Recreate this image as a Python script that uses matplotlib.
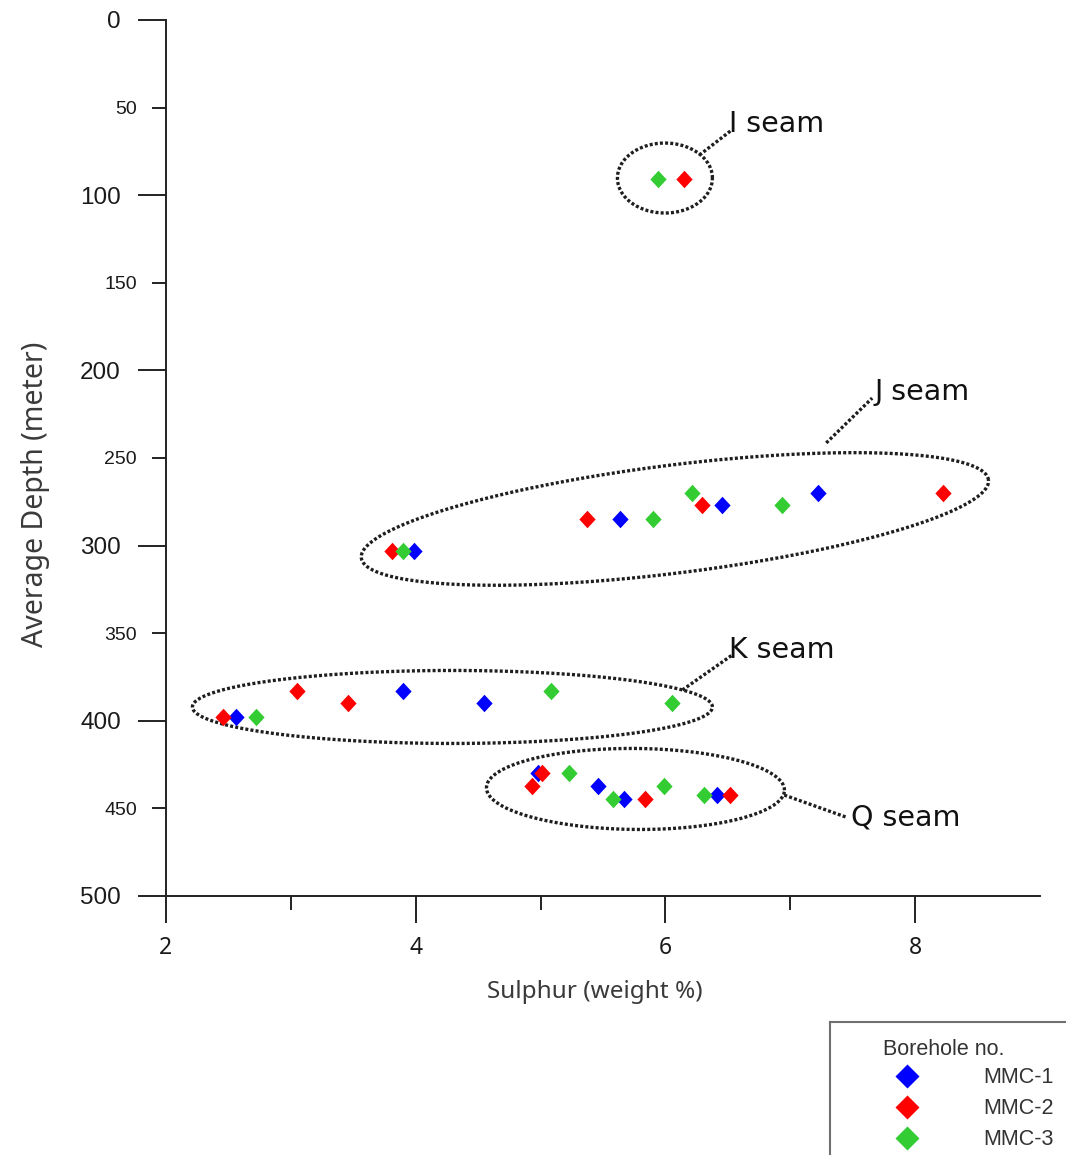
import numpy as np
import matplotlib
matplotlib.use("Agg")
import matplotlib.pyplot as plt

# ---- data: sulphur content vs average depth for three boreholes ----
boreholes = ["MMC-1", "MMC-2", "MMC-3"]
colors = ["#0000FF", "#FF0000", "#33CC33"]

mmc1_sulphur = [3.99, 5.64, 6.45, 7.22, 2.56, 3.90, 4.55, 4.98, 5.46, 5.67, 6.41]
mmc1_depth = [303, 285, 277, 270, 398, 383, 390, 430, 437, 444.5, 442.5]

mmc2_sulphur = [6.15, 3.81, 5.37, 6.29, 8.22, 2.46, 3.05, 3.46, 5.01, 4.93, 5.84, 6.52]
mmc2_depth = [90.5, 303, 285, 277, 270, 398, 383, 390, 430, 437, 444.5, 442.5]

mmc3_sulphur = [5.94, 3.90, 5.90, 6.21, 6.93, 2.72, 5.08, 6.05, 5.23, 5.99, 5.58, 6.31]
mmc3_depth = [90.5, 303, 285, 270, 277, 398, 383, 390, 430, 437, 444.5, 442.5]

sulphur = [mmc1_sulphur, mmc2_sulphur, mmc3_sulphur]
depth = [mmc1_depth, mmc2_depth, mmc3_depth]

y_major = [0, 100, 200, 300, 400, 500]
y_minor = [50, 150, 250, 350, 450]
x_major = [2, 4, 6, 8]
x_minor = [3, 5, 7]

seam_labels = ["I seam", "J seam", "K seam", "Q seam"]

# ---- figure layout (pixel based, 100 dpi) ----
W, H = 1066, 1155
fig = plt.figure(figsize=(W / 100, H / 100), dpi=100)
ax = fig.add_axes([166 / W, 1 - 896 / H, 874 / W, 876 / H])
ax.set_xlim(2, 9)
ax.set_ylim(500, 0)

axis_col = "#222222"
for s in ("top", "right"):
    ax.spines[s].set_visible(False)
for s in ("left", "bottom"):
    ax.spines[s].set_color(axis_col)
    ax.spines[s].set_linewidth(1.4)

ax.set_yticks(y_major, [str(v) for v in y_major])
ax.set_yticks(y_minor, [str(v) for v in y_minor], minor=True)
ax.set_xticks(x_major, [str(v) for v in x_major])
ax.set_xticks(x_minor, minor=True)

ax.tick_params(axis="y", which="major", length=20, width=1.4, color=axis_col,
               pad=12.5, labelsize=17.5, labelcolor="#1a1a1a")
ax.tick_params(axis="y", which="minor", length=10, width=1.4, color=axis_col,
               pad=11.0, labelsize=14, labelcolor="#1a1a1a")
ax.tick_params(axis="x", which="major", length=19.5, width=1.4, color=axis_col,
               pad=9, labelsize=16.5, labelcolor="#1a1a1a")
ax.tick_params(axis="x", which="minor", length=10, width=1.4, color=axis_col)
for lab in ax.get_yticklabels(which="both"):
    lab.set_fontfamily("Liberation Sans")
for lab in ax.get_xticklabels():
    lab.set_fontfamily("Noto Sans")

ax.set_xlabel("Sulphur (weight %)", fontsize=17.5, family="Noto Sans",
              color="#3a3a3a", va="baseline")
ax.xaxis.set_label_coords((594.5 - 166) / 874, -(998 - 896) / 876)
ax.set_ylabel("Average Depth (meter)", fontsize=20.5, family="Noto Sans",
              color="#3a3a3a", rotation=90, rotation_mode="anchor",
              ha="center", va="baseline")
ax.yaxis.set_label_coords((43 - 166) / 874, 1 - (494 - 20) / 876)

# ---- scatter points ----
diamond = [(0, 1), (0.93, 0), (0, -1), (-0.93, 0), (0, 1)]
for xs, ys, c in zip(sulphur, depth, colors):
    ax.plot(xs, ys, ls="none", marker=diamond, ms=12.6, mfc=c, mec="none",
            zorder=3)

# ---- dotted seam outlines ----
dot_style = dict(color="#1e1e1e", lw=2.4, ls=(0, (0.9, 0.65)),
                 dash_capstyle="butt", zorder=2)


def seam_outline(center, rx_px, ry_px, angle_deg):
    t = np.linspace(0, 2 * np.pi, 600)
    cx, cy = ax.transData.transform(center)
    a = np.deg2rad(angle_deg)
    ex, ey = rx_px * np.cos(t), ry_px * np.sin(t)
    px = cx + ex * np.cos(a) - ey * np.sin(a)
    py = cy + ex * np.sin(a) + ey * np.cos(a)
    pts = ax.transData.inverted().transform(np.column_stack([px, py]))
    ax.plot(pts[:, 0], pts[:, 1], **dot_style)


seam_outline((5.996, 90.2), 47.5, 35, 0)
seam_outline((6.076, 284.8), 316, 54, 7.1)
seam_outline((4.294, 392.1), 260, 36.5, 0)
seam_outline((5.76, 438.9), 149, 40.5, -0.5)

# leader lines from each outline to its label
leaders = [((6.272, 77.1), (6.52, 63.4)),
           ((7.288, 241.4), (7.656, 215.8)),
           ((6.136, 382.4), (6.536, 362.4)),
           ((6.952, 442.4), (7.448, 455.0))]
for (x0, y0), (x1, y1) in leaders:
    ax.plot([x0, x1], [y0, y1], **dot_style)

label_pos = [(6.512, 63.9), (7.672, 216.9), (6.512, 364.2), (7.488, 460.0)]
for txt, (lx, ly) in zip(seam_labels, label_pos):
    ax.text(lx, ly, txt, fontsize=20.5, family="DejaVu Sans", color="#111111",
            ha="left", va="baseline")

# ---- legend box (runs off the lower right corner) ----
lax = fig.add_axes([830 / W, 1 - 1200 / H, 300 / W, 178 / H])
lax.set_xlim(830, 1130)
lax.set_ylim(1200, 1022)
lax.set_xticks([])
lax.set_yticks([])
for s in lax.spines.values():
    s.set_color("#707070")
    s.set_linewidth(1.5)
lax.text(883, 1055, "Borehole no.", fontsize=15.5, family="Liberation Sans",
         color="#333333", ha="left", va="baseline")
leg_diamond = [(0, 1), (1.0, 0), (0, -1), (-1.0, 0), (0, 1)]
for i, (name, c) in enumerate(zip(boreholes, colors)):
    yc = 1076 + 31 * i
    lax.plot([907], [yc], ls="none", marker=leg_diamond, ms=17.3, mfc=c,
             mec="none")
    lax.text(983, yc + 7, name, fontsize=15.5, family="Liberation Sans",
             color="#333333", ha="left", va="baseline")

fig.savefig("out.png", dpi=100)
